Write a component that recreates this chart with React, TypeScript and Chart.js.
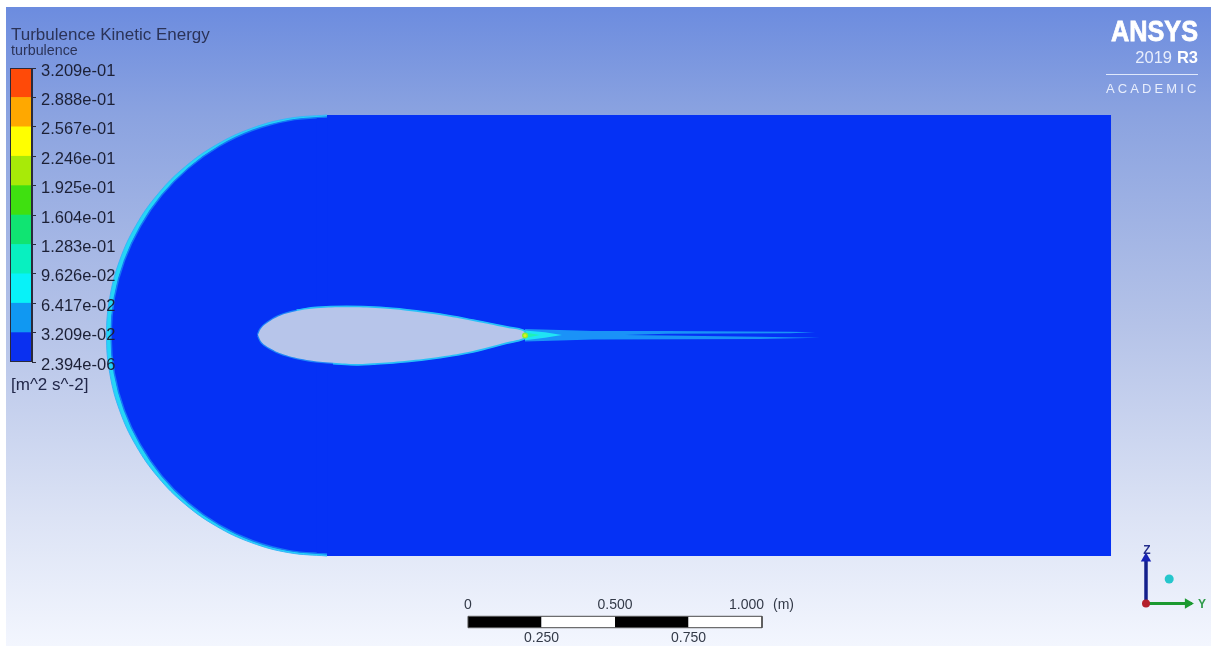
import React, { useEffect, useRef } from "react";
import { Chart, registerables } from "chart.js";

Chart.register(...registerables);

const FONT = '"Liberation Sans", Arial, sans-serif';

// Contour legend
const legendLevels = [2.394e-6, 0.03209, 0.06417, 0.09626, 0.1283, 0.1604, 0.1925, 0.2246, 0.2567, 0.2888, 0.3209];
const legendLabels = ["2.394e-06", "3.209e-02", "6.417e-02", "9.626e-02", "1.283e-01", "1.604e-01", "1.925e-01", "2.246e-01", "2.567e-01", "2.888e-01", "3.209e-01"];
const legendColors = ["#0a30f0", "#1098f2", "#08f2f8", "#08f0c0", "#10e472", "#3fe010", "#a8ea08", "#ffff00", "#ffa800", "#ff4a08"];

// Geometry, metres from the aerofoil's leading edge
const inletOuterX = [0.2347, 0.1045, -0.0218, -0.1403, -0.2474, -0.3398, -0.4148, -0.4701, -0.5039, -0.5153, -0.5039, -0.4701, -0.4148, -0.3398, -0.2474, -0.1403, -0.0218, 0.1045, 0.2347];
const inletOuterY = [0.75, 0.7386, 0.7048, 0.6495, 0.5745, 0.4821, 0.375, 0.2565, 0.1302, 0, -0.1302, -0.2565, -0.375, -0.4821, -0.5745, -0.6495, -0.7048, -0.7386, -0.75];
const inletInnerX = [0.2347, 0.1066, -0.0177, -0.133, -0.237, -0.327, -0.4, -0.4545, -0.4885, -0.4998, -0.4885, -0.4545, -0.4, -0.327, -0.237, -0.133, -0.0177, 0.1066, 0.2347];
const inletInnerY = [0.743, 0.7317, 0.6982, 0.6434, 0.5691, 0.4776, 0.3715, 0.2541, 0.129, 0, -0.129, -0.2541, -0.3715, -0.4776, -0.5691, -0.6434, -0.6982, -0.7317, -0.743];
const seamX = [0.2, 0.3, 0.3, 0.2];
const seamY = [0.74, 0.74, -0.74, -0.74];
const bodyX = [0.2347, 2.9014, 2.9014, 0.2347];
const bodyY = [0.75, 0.75, -0.75, -0.75];
const foilX = [0, 0.0092, 0.0296, 0.0748, 0.1316, 0.1997, 0.3017, 0.415, 0.5058, 0.619, 0.7313, 0.8459, 0.9014, 0.9082, 0.9014, 0.8459, 0.7313, 0.619, 0.5058, 0.3912, 0.3357, 0.2551, 0.1656, 0.085, 0.0408, 0.0126, 0];
const foilY = [0.0017, 0.0221, 0.0415, 0.0673, 0.0833, 0.0925, 0.0959, 0.0925, 0.0844, 0.0697, 0.0493, 0.0265, 0.0153, 0.0017, -0.0095, -0.0231, -0.0527, -0.0721, -0.0857, -0.0946, -0.0969, -0.0925, -0.0833, -0.0639, -0.0435, -0.0231, 0.0017];
const rimX = [0.1316, 0.1997, 0.3017, 0.415, 0.5058, 0.619, 0.7313, 0.8459, 0.9014, 0.9082, 0.9014, 0.8459, 0.7313, 0.619, 0.5058, 0.3912, 0.3357, 0.2551];
const rimY = [0.0833, 0.0925, 0.0959, 0.0925, 0.0844, 0.0697, 0.0493, 0.0265, 0.0153, 0.0017, -0.0095, -0.0231, -0.0527, -0.0721, -0.0857, -0.0946, -0.0969, -0.0925];
const wakeX = [0.9082, 1.0272, 1.1395, 1.3912, 1.8095, 1.8946, 1.8095, 1.3912, 1.2483, 1.3912, 1.7007, 1.9116, 1.7075, 1.1395, 1.0272, 0.9082];
const wakeY = [0.0225, 0.0187, 0.0153, 0.0153, 0.0129, 0.0109, 0.0075, 0.0061, 0.0017, -0.0003, -0.0041, -0.0075, -0.0119, -0.0136, -0.017, -0.0201];
const coreX = [0.9082, 0.976, 1.034, 0.976, 0.9082];
const coreY = [0.0174, 0.0109, 0.0017, -0.0075, -0.0157];
const innerCoreX = [0.9082, 0.9592, 0.9082];
const innerCoreY = [0.0099, 0.0017, -0.0082];
const hotSpotX = [0.9082];
const hotSpotY = [0];

// Scale bar
const scaleBarStart = [0.7143, 0.9643, 1.2143, 1.4643];
const scaleBarEnd = [0.9643, 1.2143, 1.4643, 1.7143];
const scaleBarColors = ["#000000", "#ffffff", "#000000", "#ffffff"];
const scaleBarY = -0.9745;
const scaleTopLabels = ["0", "0.500", "1.000"];
const scaleTopAt = [0.7143, 1.2143, 1.7143];
const scaleBottomLabels = ["0.250", "0.750"];
const scaleBottomAt = [0.9643, 1.4643];

// Axis triad
const triadOrigin = { x: 3.0204, y: -0.9116 };
const triadZTip = { x: 3.0204, y: -0.7721 };
const triadYTip = { x: 3.1769, y: -0.9116 };
const triadSphere = { x: 3.0993, y: -0.8283 };

const xy = (xs: number[], ys: number[]) => xs.map((x, i) => ({ x, y: ys[i] }));

const shape = (xs: number[], ys: number[], fill: string, border = fill, borderWidth = 0, tension = 0) => ({
  type: "scatter" as const,
  data: xy(xs, ys),
  showLine: true,
  fill: "shape",
  backgroundColor: fill,
  borderColor: border,
  borderWidth,
  pointRadius: 0,
  tension,
});

const stroke = (xs: number[], ys: number[], color: string, borderWidth: number, tension = 0) => ({
  type: "scatter" as const,
  data: xy(xs, ys),
  showLine: true,
  fill: false,
  borderColor: color,
  borderWidth,
  pointRadius: 0,
  borderCapStyle: "butt" as const,
  tension,
});

const dot = (x: number, y: number, color: string, radius: number, style = "circle", rotation = 0) => ({
  type: "scatter" as const,
  data: [{ x, y }],
  showLine: false,
  backgroundColor: color,
  borderColor: color,
  pointRadius: radius,
  pointStyle: style,
  rotation,
  pointBorderWidth: 0,
});

const backdrop = {
  id: "backdrop",
  beforeDraw(chart: any) {
    const { ctx, width, height } = chart;
    ctx.save();
    ctx.fillStyle = "#ffffff";
    ctx.fillRect(0, 0, width, height);
    const g = ctx.createLinearGradient(0, 7, 0, height);
    g.addColorStop(0, "#6c8cdf");
    g.addColorStop(0.17, "#8ba3e0");
    g.addColorStop(0.5, "#b5c3e8");
    g.addColorStop(0.8, "#dce3f5");
    g.addColorStop(1, "#f3f6fe");
    ctx.fillStyle = g;
    ctx.fillRect(6, 7, width - 6, height - 7);
    ctx.restore();
  },
};

const annotations = {
  id: "annotations",
  afterDatasetsDraw(chart: any) {
    const { ctx } = chart;
    const px = (v: number) => chart.scales.x.getPixelForValue(v);
    const py = (v: number) => chart.scales.y.getPixelForValue(v);
    const put = (s: string, x: number, y: number, font: string, color: string, align: CanvasTextAlign = "left", maxWidth?: number) => {
      ctx.font = `${font} ${FONT}`;
      ctx.fillStyle = color;
      ctx.textAlign = align;
      ctx.textBaseline = "middle";
      if (maxWidth) ctx.fillText(s, x, y, maxWidth);
      else ctx.fillText(s, x, y);
    };
    ctx.save();
    put("Turbulence Kinetic Energy", 11, 35, "17px", "#2b3358");
    put("turbulence", 11, 51, "14.3px", "#2b3358");
    put("[m^2 s^-2]", 11, 385, "17px", "#22284a");

    put("ANSYS", 1198, 33, "bold 30px", "#ffffff", "right", 87);
    ctx.strokeStyle = "#ffffff";
    ctx.lineWidth = 0.8;
    ctx.strokeText("ANSYS", 1198, 33, 87);
    put("R3", 1198, 58, "bold 16.5px", "#ffffff", "right");
    put("2019", 1172, 58, "16.5px", "#e8eefc", "right");
    ctx.strokeStyle = "#dfe8fb";
    ctx.lineWidth = 1;
    ctx.beginPath();
    ctx.moveTo(1106, 74.5);
    ctx.lineTo(1198, 74.5);
    ctx.stroke();
    (ctx as any).letterSpacing = "3.1px";
    put("ACADEMIC", 1106, 89, "13px", "#e8eefc");
    (ctx as any).letterSpacing = "0px";

    const topY = py(scaleBarY) - 17;
    const botY = py(scaleBarY) + 16;
    scaleTopLabels.forEach((s, i) => {
      const x = px(scaleTopAt[i]);
      put(s, i === 2 ? x + 2 : x, topY, "14px", "#333a48", i === 2 ? "right" : "center");
    });
    put("(m)", px(scaleTopAt[2]) + 11, topY, "14px", "#333a48");
    scaleBottomLabels.forEach((s, i) => put(s, px(scaleBottomAt[i]), botY, "14px", "#333a48", "center"));

    put("Z", px(triadOrigin.x) + 1, py(triadZTip.y) - 12, "bold 12px", "#232c8c", "center");
    put("Y", px(triadYTip.x) + 10, py(triadYTip.y) + 1, "bold 12px", "#2f9a4a", "center");
    ctx.restore();
  },
};

const barOutline = {
  id: "barOutline",
  afterDatasetsDraw(chart: any) {
    const { ctx, chartArea } = chart;
    ctx.save();
    ctx.strokeStyle = "#2a2a3a";
    ctx.lineWidth = 1;
    ctx.strokeRect(chartArea.left + 0.5, chartArea.top + 0.5, chartArea.right - chartArea.left - 1, chartArea.bottom - chartArea.top - 1);
    ctx.restore();
  },
};

export default function App() {
  const mainRef = useRef<HTMLCanvasElement>(null);
  const legendRef = useRef<HTMLCanvasElement>(null);

  useEffect(() => {
    document.body.style.margin = "0";
    document.body.style.overflow = "hidden";

    const paintOrder: any[] = [
      shape(inletOuterX, inletOuterY, "#25d6f6", "#3ab4fa", 1, 0.4),
      shape(inletInnerX, inletInnerY, "#0531f5", "#1478f6", 1.5, 0.4),
      shape(seamX, seamY, "#0531f5"),
      shape(bodyX, bodyY, "#0531f5"),
      shape(wakeX, wakeY, "#1a92f8"),
      shape(coreX, coreY, "#20e4f4"),
      shape(innerCoreX, innerCoreY, "#20f0b8"),
      stroke(foilX, foilY, "#1f86f8", 2.5, 0.4),
      stroke(rimX, rimY, "#28c0f8", 3.5, 0.4),
      shape(foilX, foilY, "#b7c5ea", "#b7c5ea", 0, 0.4),
      dot(hotSpotX[0], hotSpotY[0], "#8cf030", 3),
      dot(hotSpotX[0], hotSpotY[0], "#e0f020", 1.5),
      ...scaleBarStart.map((s, i) => stroke([s, scaleBarEnd[i]], [scaleBarY, scaleBarY], scaleBarColors[i], 11)),
      stroke(
        [scaleBarStart[0], scaleBarEnd[3], scaleBarEnd[3], scaleBarStart[0], scaleBarStart[0]],
        [scaleBarY + 0.0194, scaleBarY + 0.0194, scaleBarY - 0.0194, scaleBarY - 0.0194, scaleBarY + 0.0194],
        "#4a4a4a",
        1
      ),
      stroke([triadOrigin.x, triadZTip.x], [triadOrigin.y, triadZTip.y + 0.02], "#14208c", 3.5),
      dot(triadZTip.x, triadZTip.y + 0.014, "#1622b4", 6, "triangle", 0),
      stroke([triadOrigin.x, triadYTip.x], [triadOrigin.y, triadYTip.y], "#1c9a30", 3),
      dot(triadYTip.x - 0.014, triadYTip.y, "#1c9a30", 6, "triangle", 90),
      dot(triadOrigin.x, triadOrigin.y, "#b4202c", 4),
      dot(triadSphere.x, triadSphere.y, "#25c6cc", 4.5),
    ];
    const datasets = paintOrder.map((d, i) => ({ ...d, order: paintOrder.length - i }));

    const main = new Chart(mainRef.current as HTMLCanvasElement, {
      type: "scatter",
      data: { datasets },
      options: {
        animation: false,
        responsive: false,
        devicePixelRatio: 1,
        layout: { padding: 0, autoPadding: false },
        events: [],
        clip: false,
        plugins: { legend: { display: false }, tooltip: { enabled: false }, filler: { propagate: false } },
        scales: {
          x: { type: "linear", display: false, min: -0.8776, max: 3.2415 },
          y: { type: "linear", display: false, min: -1.0561, max: 1.1412 },
        },
      },
      plugins: [backdrop, annotations],
    } as any);

    const bands = legendColors.map((c, i) => ({
      data: [[legendLevels[i], legendLevels[i + 1]]],
      backgroundColor: c,
      borderWidth: 0,
      grouped: false,
      categoryPercentage: 1,
      barPercentage: 1,
    }));

    const legend = new Chart(legendRef.current as HTMLCanvasElement, {
      type: "bar",
      data: { labels: [""], datasets: bands },
      options: {
        animation: false,
        responsive: false,
        devicePixelRatio: 1,
        events: [],
        layout: { padding: { top: 10, bottom: 14, left: 0, right: 0 }, autoPadding: false },
        plugins: { legend: { display: false }, tooltip: { enabled: false } },
        scales: {
          x: { display: false, grid: { display: false } },
          y: {
            position: "right",
            min: legendLevels[0],
            max: legendLevels[legendLevels.length - 1],
            afterFit: (s: any) => { s.width = 92; s.paddingTop = 0; s.paddingBottom = 0; },
            afterBuildTicks: (s: any) => { s.ticks = legendLevels.map((value) => ({ value })); },
            border: { display: true, color: "#2a2a3a", width: 1 },
            grid: { drawOnChartArea: false, drawTicks: true, tickLength: 4, color: "#2a2a3a" },
            ticks: {
              padding: 5,
              labelOffset: 3,
              color: "#1c2036",
              autoSkip: false,
              font: { family: FONT, size: 16.5 },
              callback: (_v: any, i: number) => legendLabels[i],
            },
          },
        },
      },
      plugins: [barOutline],
    } as any);

    return () => {
      main.destroy();
      legend.destroy();
    };
  }, []);

  return (
    <div style={{ position: "relative", width: 1211, height: 646, overflow: "hidden" }}>
      <canvas ref={mainRef} width={1211} height={646} style={{ position: "absolute", left: 0, top: 0, width: 1211, height: 646 }} />
      <canvas ref={legendRef} width={114} height={318} style={{ position: "absolute", left: 10, top: 58, width: 114, height: 318 }} />
    </div>
  );
}
